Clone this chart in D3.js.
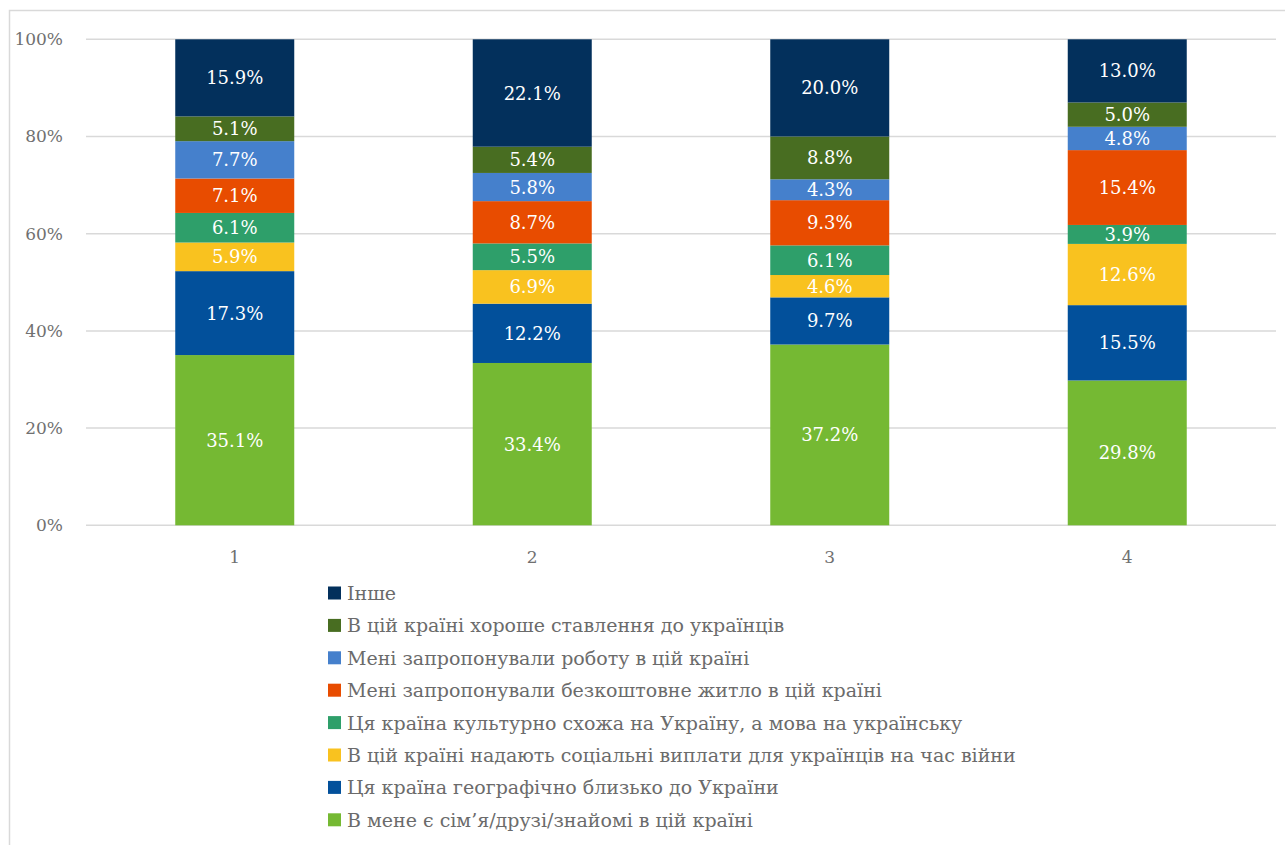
<!DOCTYPE html>
<html>
<head>
<meta charset="utf-8">
<script src="https://cdn.jsdelivr.net/npm/d3@7"></script>
<style>
  html, body { margin: 0; padding: 0; background: #fff; }
  svg { display: block; }
  text { font-family: "DejaVu Serif", "Liberation Serif", serif; }
</style>
</head>
<body>
<svg id="chart" width="1285" height="845"></svg>
<script>
const categories = ["1", "2", "3", "4"];
const seriesNames = [
  "В мене є сім’я/друзі/знайомі в цій країні",
  "Ця країна географічно близько до України",
  "В цій країні надають соціальні виплати для українців на час війни",
  "Ця країна культурно схожа на Україну, а мова на українську",
  "Мені запропонували безкоштовне житло в цій країні",
  "Мені запропонували роботу в цій країні",
  "В цій країні хороше ставлення до українців",
  "Інше"
];
const seriesColors = ["#75B933", "#02509B", "#F9C21F", "#2E9F6A", "#E84C00", "#4580CC", "#486D21", "#03305C"];
const family   = [35.1, 33.4, 37.2, 29.8];
const geo      = [17.3, 12.2, 9.7, 15.5];
const social   = [5.9, 6.9, 4.6, 12.6];
const culture  = [6.1, 5.5, 6.1, 3.9];
const housing  = [7.1, 8.7, 9.3, 15.4];
const work     = [7.7, 5.8, 4.3, 4.8];
const attitude = [5.1, 5.4, 8.8, 5.0];
const other    = [15.9, 22.1, 20.0, 13.0];
const yTicks = [0, 0.2, 0.4, 0.6, 0.8, 1.0];

const seriesValues = [family, geo, social, culture, housing, work, attitude, other];

const svg = d3.select("#chart");

// outer chart border
svg.append("rect")
  .attr("x", 9.5).attr("y", 10.5)
  .attr("width", 2000).attr("height", 2000)
  .attr("fill", "none").attr("stroke", "#d9d9d9").attr("stroke-width", 1.5);

const x = d3.scaleBand().domain(categories).range([86, 1276]).paddingInner(0.6).paddingOuter(0.3);
const y = d3.scaleLinear().domain([0, 1]).range([525.3, 39.3]);

// gridlines
svg.append("g").selectAll("line").data(yTicks).join("line")
  .attr("x1", 86).attr("x2", 1276)
  .attr("y1", d => y(d)).attr("y2", d => y(d))
  .attr("stroke", "#d9d9d9").attr("stroke-width", 1.5);

// y axis labels
const yAxis = d3.axisLeft(y).tickValues(yTicks).tickFormat(d3.format(".0%")).tickSize(0).tickPadding(23);
const gy = svg.append("g").attr("transform", "translate(86,0)").call(yAxis);
gy.select(".domain").remove();
gy.selectAll("text").attr("fill", "#707070").style("font-size", "17px")
  .style("font-family", "'DejaVu Serif', serif");

// x axis labels
const xAxis = d3.axisBottom(x).tickSize(0).tickPadding(26);
const gx = svg.append("g").attr("transform", "translate(0,525.3)").call(xAxis);
gx.select(".domain").remove();
gx.selectAll("text").attr("fill", "#707070").style("font-size", "17px")
  .style("font-family", "'DejaVu Serif', serif");

// stack data
const rows = categories.map((c, i) => {
  const r = { cat: c };
  seriesNames.forEach((s, k) => { r[s] = seriesValues[k][i]; });
  return r;
});
const stack = d3.stack().keys(seriesNames).offset(d3.stackOffsetExpand);
const stacked = stack(rows);

const layers = svg.append("g").selectAll("g").data(stacked).join("g")
  .attr("fill", (d, k) => seriesColors[k]);

layers.selectAll("rect").data(d => d.map(p => ({ p, key: d.key }))).join("rect")
  .attr("x", d => x(d.p.data.cat))
  .attr("width", x.bandwidth())
  .attr("y", d => y(d.p[1]))
  .attr("height", d => y(d.p[0]) - y(d.p[1]));

layers.selectAll("text").data(d => d.map(p => ({ p, key: d.key }))).join("text")
  .attr("x", d => x(d.p.data.cat) + x.bandwidth() / 2)
  .attr("y", d => (y(d.p[0]) + y(d.p[1])) / 2)
  .attr("text-anchor", "middle")
  .attr("dominant-baseline", "central")
  .attr("fill", "#ffffff")
  .style("font-size", "18px")
  .text(d => d3.format(".1f")(d.p.data[d.key]) + "%");

// legend (reverse order)
const legendItems = seriesNames.map((s, k) => ({ name: s, color: seriesColors[k] })).reverse();
const legend = svg.append("g");
const lg = legend.selectAll("g").data(legendItems).join("g")
  .attr("transform", (d, i) => `translate(328, ${593 + i * 32.4})`);
lg.append("rect").attr("x", 0).attr("y", -6.5).attr("width", 13).attr("height", 13)
  .attr("fill", d => d.color);
lg.append("text").attr("x", 19).attr("y", 0)
  .attr("dominant-baseline", "central")
  .attr("fill", "#6b6b6b")
  .style("font-size", "19px")
  .text(d => d.name);
</script>
</body>
</html>
